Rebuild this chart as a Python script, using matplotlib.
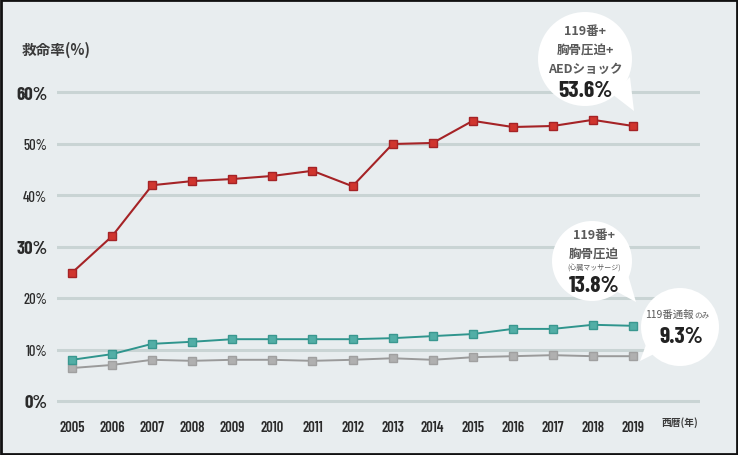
import matplotlib.pyplot as plt
import numpy as np
from matplotlib.patches import Circle, Polygon

years = [2005, 2006, 2007, 2008, 2009, 2010, 2011, 2012, 2013, 2014, 2015, 2016, 2017, 2018, 2019]
aed = [24.9, 32.0, 41.9, 42.7, 43.1, 43.7, 44.7, 41.7, 49.9, 50.1, 54.4, 53.2, 53.4, 54.6, 53.4]
cpr = [8.0, 9.1, 11.1, 11.5, 12.0, 12.0, 12.0, 12.0, 12.2, 12.6, 13.0, 14.0, 14.0, 14.8, 14.6]
call = [6.4, 7.0, 8.0, 7.8, 8.0, 8.0, 7.8, 8.0, 8.3, 8.0, 8.5, 8.7, 8.9, 8.7, 8.7]
yticks = [0, 10, 20, 30, 40, 50, 60]
big_ticks = [0, 30, 60]

narrow = ['Barlow Condensed', 'DejaVu Sans']
jp = ['Noto Sans CJK JP', 'DejaVu Sans']

bg = '#e8edef'
W, H = 738, 456
fig = plt.figure(figsize=(W / 100, H / 100), dpi=100, facecolor=bg)

# axes placed in pixel terms: x 57..700, y 0% at 402, 60% at 93
pxy = (402 - 93) / 60.0
bot = 402 + 1.5 * pxy
top = 93 - 1.5 * pxy
ax = fig.add_axes([57 / W, 1 - bot / H, (700 - 57) / W, (bot - top) / H])
ax.set_facecolor(bg)
pxx = (633 - 72) / 14.0
ax.set_xlim(2005 - 15 / pxx, 2019 + 67 / pxx)
ax.set_ylim(-1.5, 61.5)
for s in ax.spines.values():
    s.set_visible(False)
for v in yticks:
    ax.axhline(v, color='#c9d4d4', lw=2.2, zorder=1)

ax.plot(years, call, color='#9a9a9a', lw=1.4, marker='s', ms=5.8,
        mfc='#b0b0b0', mec='#a0a0a0', zorder=3, clip_on=False)
ax.plot(years, cpr, color='#2f958d', lw=1.4, marker='s', ms=5.8,
        mfc='#52aea6', mec='#3a9890', zorder=3, clip_on=False)
ax.plot(years, aed, color='#a52326', lw=1.5, marker='s', ms=5.8,
        mfc='#d0352e', mec='#a52326', zorder=3, clip_on=False)

ax.set_yticks(yticks)
ax.set_yticklabels([f'{v}%' for v in yticks])
for lab, v in zip(ax.get_yticklabels(), yticks):
    if v in big_ticks:
        lab.set_fontsize(13.5)
        lab.set_fontweight('bold')
    else:
        lab.set_fontsize(10.5)
        lab.set_fontweight('medium')
    lab.set_family(narrow)
    lab.set_color('#2b2b2b')
ax.set_xticks(years)
ax.set_xticklabels([str(y) for y in years], family=narrow, fontsize=10.5,
                   fontweight='semibold', color='#2b2b2b')
ax.tick_params(length=0)
ax.tick_params(axis='y', pad=7)
ax.tick_params(axis='x', pad=8)

fig.text(22 / W, 1 - 50 / H, '救命率(%)', family=jp, fontsize=10.5,
         fontweight='bold', color='#3a3a3a', va='center', ha='left')
fig.text(662 / W, 1 - 423 / H, '西暦(年)', family=jp, fontsize=7,
         fontweight='bold', color='#3a3a3a', va='center', ha='left')

# overlay in pixel coordinates for the callout bubbles
ov = fig.add_axes([0, 0, 1, 1], facecolor='none')
ov.set_xlim(0, W)
ov.set_ylim(H, 0)
ov.axis('off')


def bubble(cx, cy, r, tail):
    ov.add_patch(Circle((cx, cy), r, fc='white', ec='none', zorder=5))
    ov.add_patch(Polygon(tail, closed=True, fc='white', ec='none', zorder=5))


bubble(585, 60, 47, [(612, 95), (630, 78), (634, 112)])
bubble(592, 262, 40, [(612, 290), (628, 276), (636, 303)])
bubble(680, 328, 39, [(650, 335), (660, 352), (640, 362)])

tc = '#5a5a5a'
big = '#222222'
kw = dict(family=jp, fontsize=9, fontweight='bold', color=tc, ha='center', va='center', zorder=6)
ov.text(585, 31, '119番+', **kw)
ov.text(585, 50, '胸骨圧迫+', **kw)
ov.text(585, 69, 'AEDショック', **kw)
ov.text(585, 91, '53.6%', family=narrow, fontsize=17, fontweight='bold', color=big, ha='center', va='center', zorder=6)

ov.text(594, 236, '119番+', **kw)
ov.text(594, 254, '胸骨圧迫', **kw)
ov.text(594, 268, '(心臓マッサージ)', family=jp, fontsize=5, color=tc, ha='center', va='center', zorder=6)
ov.text(594, 286, '13.8%', family=narrow, fontsize=17, fontweight='bold', color=big, ha='center', va='center', zorder=6)

ov.text(694, 315, '119番通報', family=jp, fontsize=7.5, color=tc, ha='right', va='center', zorder=6)
ov.text(694, 316, 'のみ', family=jp, fontsize=5.5, color=tc, ha='left', va='center', zorder=6)
ov.text(681, 337, '9.3%', family=narrow, fontsize=17, fontweight='bold', color=big, ha='center', va='center', zorder=6)

# dark frame around the whole picture
ov.add_patch(plt.Rectangle((1, 1), W - 2, H - 2, fill=False, ec='#111111', lw=2, zorder=10))

fig.savefig('out.png', dpi=100, facecolor=bg)
